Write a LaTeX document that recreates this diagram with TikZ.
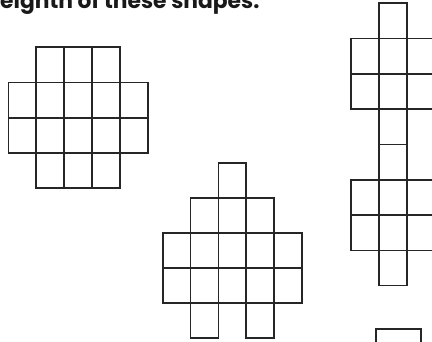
\documentclass[tikz,border=0pt]{standalone}
\usepackage{fontspec}
\newfontfamily\titlefont{Poppins}
\usepackage{tikz}

\begin{document}
\begin{tikzpicture}[
  x=1pt, y=-1pt,
  gridline/.style={draw=black!85, line width=1.6pt, line join=miter},
  titletext/.style={anchor=base west, inner sep=0pt,
    font=\titlefont\bfseries\fontsize{21.8}{24}\selectfont, text=black!90}
]

\useasboundingbox (0,0) rectangle (432,342);
\clip (0,0) rectangle (432,342);

%% ==== Heading (cut off at the top) ====
\node[titletext] (head) at (0,9) {eighth of these shapes.};

%% ==== Shape A: ring of squares ====
\begin{scope}[shift={(8.3,47.3)}, x=27.88pt, y=-35.25pt]
  \foreach \i/\j in {1/0, 2/0, 3/0,
                     0/1, 1/1, 2/1, 3/1, 4/1,
                     0/2, 1/2, 2/2, 3/2, 4/2,
                     1/3, 2/3, 3/3}
    \draw[gridline] (\i,\j) rectangle ++(1,1);
\end{scope}

%% ==== Shape B: stepped tower ====
\begin{scope}[shift={(162.7,163.3)}, x=27.8pt, y=-35pt]
  \foreach \i/\j in {2/0,
                     1/1, 2/1, 3/1,
                     0/2, 1/2, 2/2, 3/2, 4/2,
                     0/3, 1/3, 2/3, 3/3, 4/3,
                     1/4, 3/4}
    \draw[gridline] (\i,\j) rectangle ++(1,1);
\end{scope}

%% ==== Shape C: two crosses stacked ====
\begin{scope}[shift={(351,3.3)}, x=28pt, y=-35.3pt]
  \foreach \j in {0,4}{
    \foreach \i/\k in {1/0, 0/1, 1/1, 2/1, 0/2, 1/2, 2/2, 1/3}
      \draw[gridline] (\i,\j+\k) rectangle ++(1,1);
  }
\end{scope}

%% ==== Shape D: top edge only ====
\draw[gridline] (376,360) -- (376,329) -- (421,329) -- (421,360);

\end{tikzpicture}
\end{document}
